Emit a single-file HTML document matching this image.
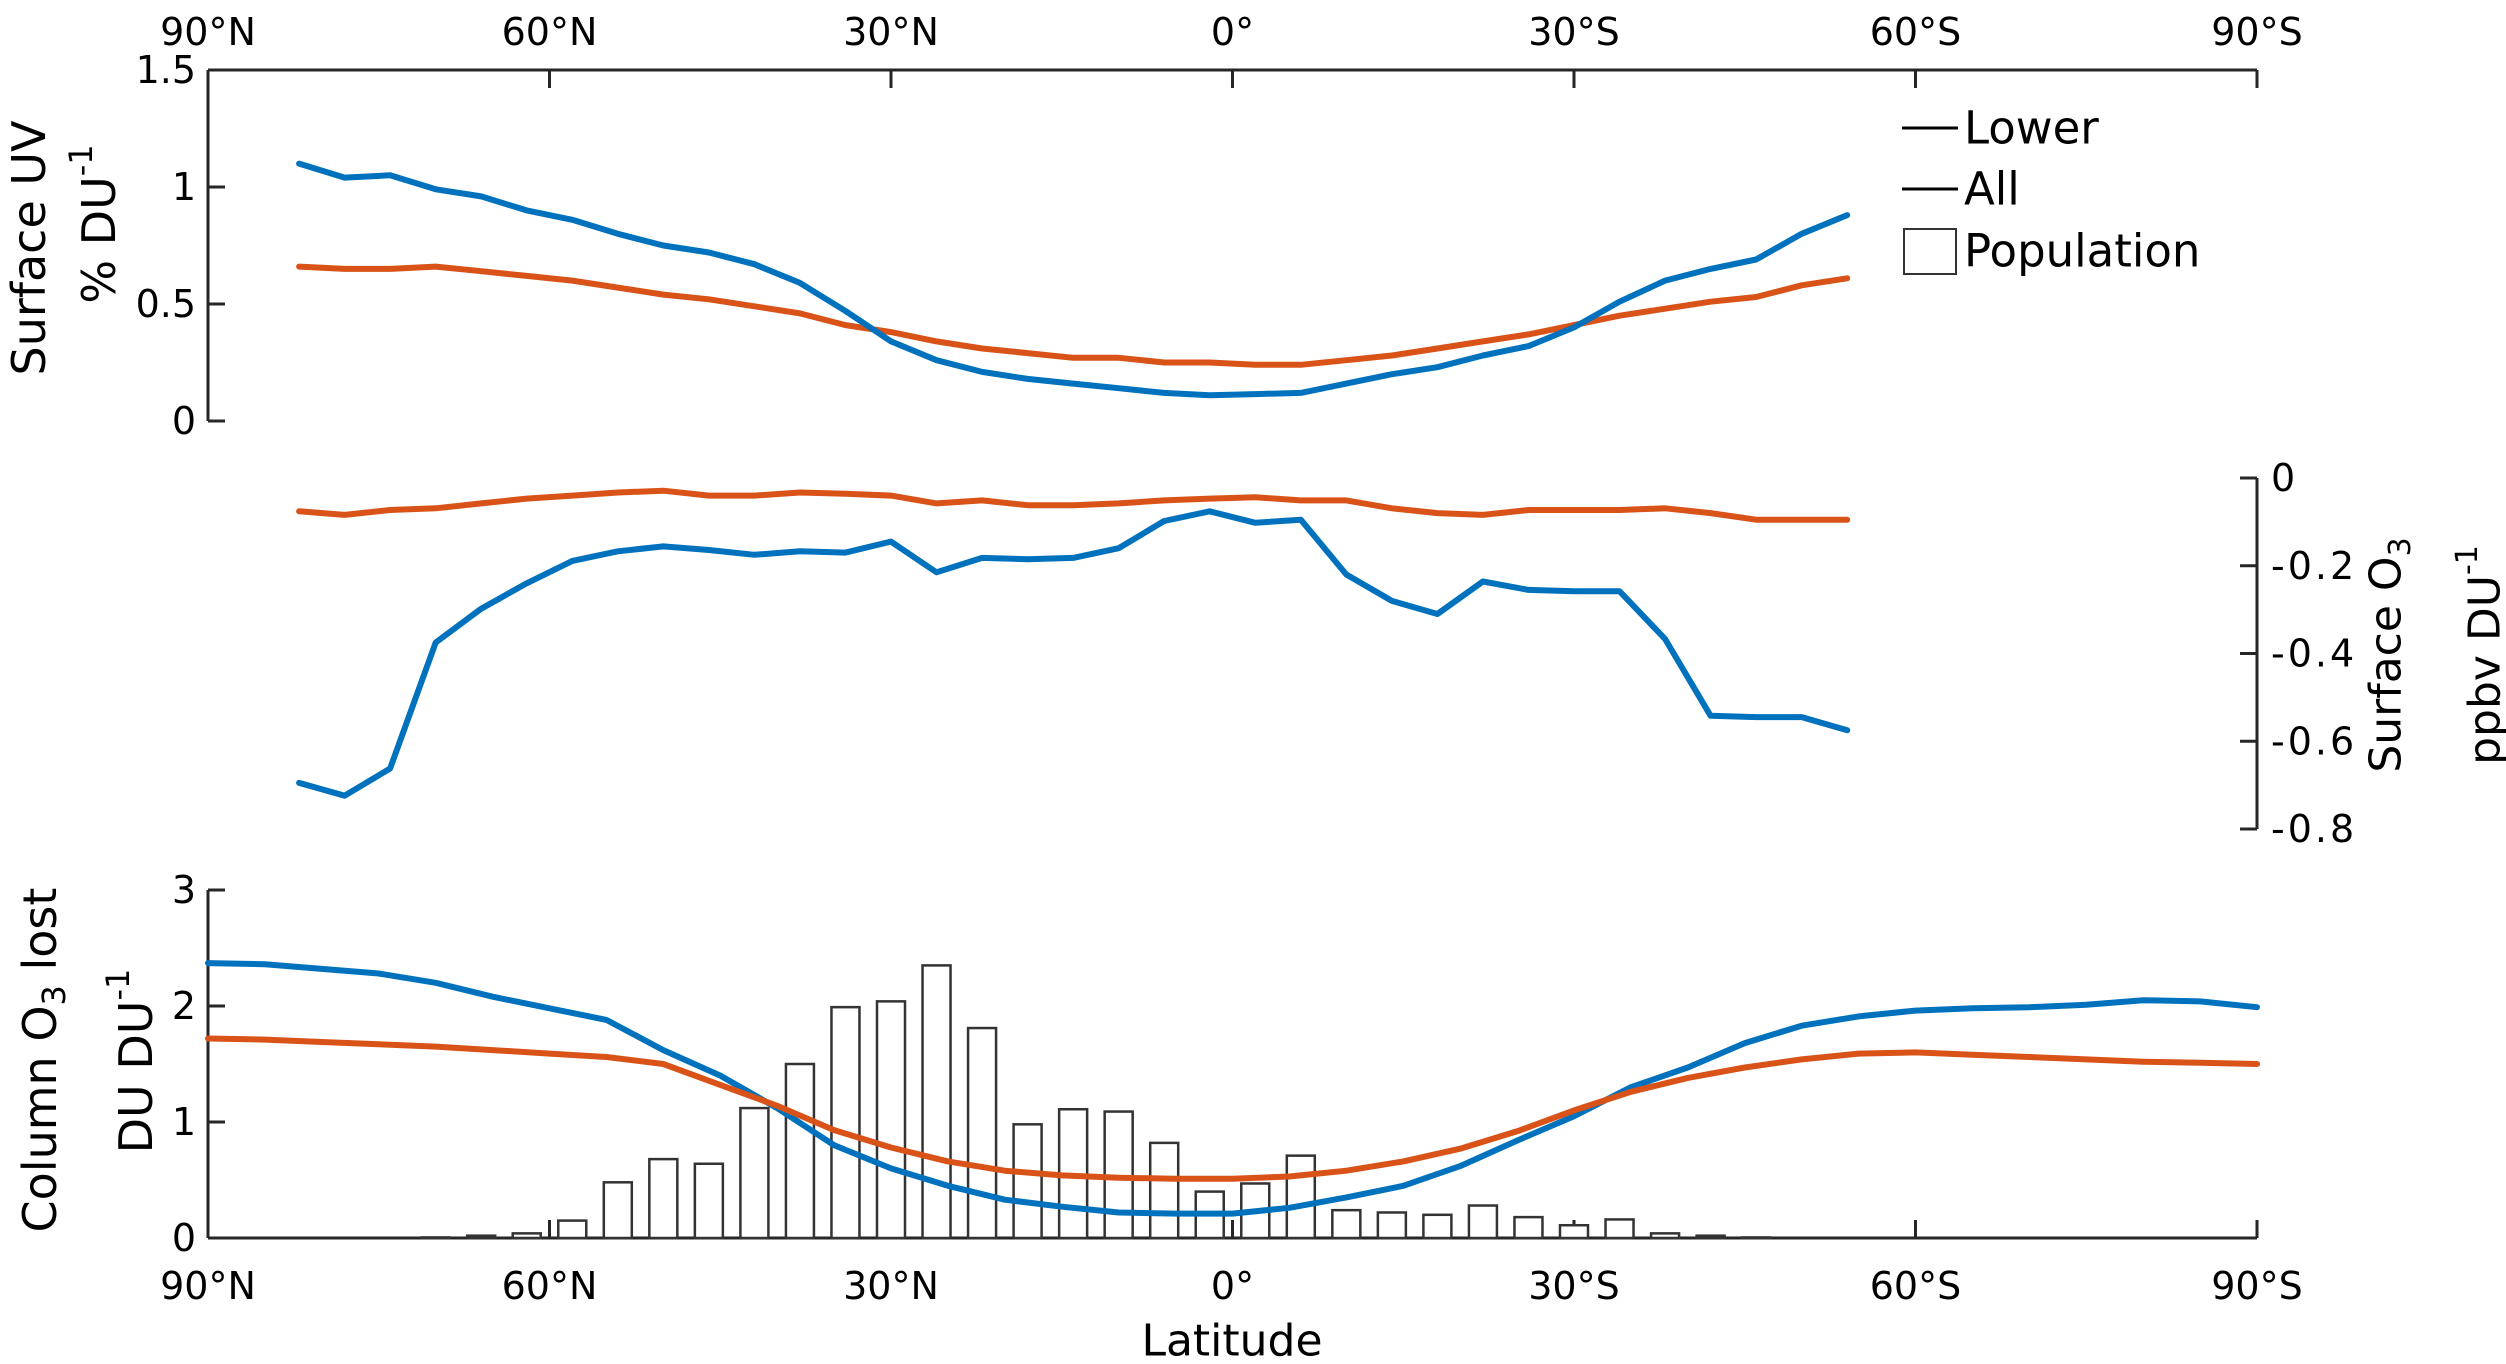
<!DOCTYPE html>
<html><head><meta charset="utf-8">
<style>
html,body{margin:0;padding:0;background:#fff;}
svg{display:block;font-family:"DejaVu Sans","Liberation Sans",sans-serif;}
</style></head>
<body>
<svg id="chart" width="2506" height="1364" viewBox="0 0 2506 1364" xmlns="http://www.w3.org/2000/svg">
<rect width="2506" height="1364" fill="#fff"/>
<g id="axes"></g>
<g id="marks"></g>
<text transform="translate(29,248) rotate(-90)" text-anchor="middle" dominant-baseline="central" font-size="46">Surface UV</text>
<text transform="translate(99,224) rotate(-90)" text-anchor="middle" dominant-baseline="central" font-size="46">% DU<tspan font-size="32" dy="-18">-1</tspan></text>
<text transform="translate(2386,655) rotate(-90)" text-anchor="middle" dominant-baseline="central" font-size="44">Surface O<tspan font-size="30" dy="14">3</tspan></text>
<text transform="translate(2485,655) rotate(-90)" text-anchor="middle" dominant-baseline="central" font-size="44">ppbv DU<tspan font-size="30" dy="-18">-1</tspan></text>
<text transform="translate(40,1060) rotate(-90)" text-anchor="middle" dominant-baseline="central" font-size="46">Column O<tspan font-size="32" dy="14">3</tspan><tspan dy="-14"> lost</tspan></text>
<text transform="translate(136,1061) rotate(-90)" text-anchor="middle" dominant-baseline="central" font-size="46">DU DU<tspan font-size="32" dy="-18">-1</tspan></text>
<text x="1232" y="1341" text-anchor="middle" dominant-baseline="central" font-size="44">Latitude</text>
<g>
<line x1="1902" y1="128" x2="1958" y2="128" stroke="#000" stroke-width="3"/>
<text x="1964" y="128" dominant-baseline="central" font-size="45">Lower</text>
<line x1="1902" y1="189" x2="1958" y2="189" stroke="#000" stroke-width="3"/>
<text x="1964" y="189" dominant-baseline="central" font-size="45">All</text>
<rect x="1904" y="229" width="52" height="45" fill="#fff" stroke="#333" stroke-width="2"/>
<text x="1964" y="251" dominant-baseline="central" font-size="45">Population</text>
</g>
</svg>
<script>
const gridLat = [82,78,74,70,66,62,58,54,50,46,42,38,34,30,26,22,18,14,10,6,2,-2,-6,-10,-14,-18,-22,-26,-30,-34,-38,-42,-46,-50,-54];
const uvLower = [1.10,1.04,1.05,0.99,0.96,0.90,0.86,0.80,0.75,0.72,0.67,0.59,0.47,0.34,0.26,0.21,0.18,0.16,0.14,0.12,0.11,0.115,0.12,0.16,0.20,0.23,0.28,0.32,0.40,0.51,0.60,0.65,0.69,0.80,0.88];
const uvAll = [0.66,0.65,0.65,0.66,0.64,0.62,0.60,0.57,0.54,0.52,0.49,0.46,0.41,0.38,0.34,0.31,0.29,0.27,0.27,0.25,0.25,0.24,0.24,0.26,0.28,0.31,0.34,0.37,0.41,0.45,0.48,0.51,0.53,0.58,0.61];
const o3Lower = [-0.695,-0.724,-0.662,-0.375,-0.298,-0.24,-0.189,-0.167,-0.156,-0.164,-0.175,-0.167,-0.17,-0.145,-0.215,-0.182,-0.185,-0.182,-0.16,-0.098,-0.076,-0.102,-0.095,-0.22,-0.28,-0.31,-0.236,-0.255,-0.258,-0.258,-0.367,-0.542,-0.545,-0.545,-0.575];
const o3All = [-0.076,-0.084,-0.073,-0.069,-0.058,-0.047,-0.04,-0.033,-0.029,-0.04,-0.04,-0.033,-0.036,-0.04,-0.058,-0.051,-0.062,-0.062,-0.058,-0.051,-0.047,-0.044,-0.051,-0.051,-0.069,-0.08,-0.084,-0.073,-0.073,-0.073,-0.069,-0.08,-0.095,-0.095,-0.095];
const population = [0,0,0,0.005,0.02,0.04,0.15,0.48,0.68,0.64,1.12,1.50,1.99,2.04,2.35,1.81,0.98,1.11,1.09,0.82,0.40,0.47,0.71,0.24,0.22,0.20,0.28,0.18,0.11,0.16,0.04,0.02,0.005,0,0];
const colLat = [90,85,80,75,70,65,60,55,50,45,40,35,30,25,20,15,10,5,0,-5,-10,-15,-20,-25,-30,-35,-40,-45,-50,-55,-60,-65,-70,-75,-80,-85,-90];
const colLower = [2.37,2.36,2.32,2.28,2.20,2.08,1.98,1.88,1.62,1.40,1.12,0.80,0.60,0.45,0.33,0.27,0.22,0.21,0.21,0.26,0.35,0.45,0.62,0.84,1.05,1.30,1.47,1.68,1.83,1.91,1.96,1.98,1.99,2.01,2.05,2.04,1.99];
const colAll = [1.72,1.71,1.69,1.67,1.65,1.62,1.59,1.56,1.50,1.32,1.14,0.93,0.78,0.66,0.58,0.54,0.52,0.51,0.51,0.53,0.58,0.66,0.77,0.92,1.10,1.26,1.38,1.47,1.54,1.59,1.60,1.58,1.56,1.54,1.52,1.51,1.50];
const latTicks = [90,60,30,0,-30,-60,-90];
const latTickLabels = ["90°N","60°N","30°N","0°","30°S","60°S","90°S"];
const uvTicks = [0,0.5,1,1.5];
const uvTickLabels = ["0","0.5","1","1.5"];
const o3Ticks = [0,-0.2,-0.4,-0.6,-0.8];
const o3TickLabels = ["0","-0.2","-0.4","-0.6","-0.8"];
const colTicks = [0,1,2,3];
const colTickLabels = ["0","1","2","3"];

const NS = "http://www.w3.org/2000/svg";
const X0 = 208, X1 = 2257;
const xLat = lat => X0 + (90 - lat) / 180 * (X1 - X0);
const yUV = v => 421 - v * 234;
const yO3 = v => 478 - v * (829 - 478) / 0.8;
const yCol = v => 1238 - v * 116;
const BLUE = "#0072BD", ORANGE = "#D95319", AX = "#262626";
const axes = document.getElementById("axes");
const marks = document.getElementById("marks");
function mk(tag, attrs, parent) {
  const el = document.createElementNS(NS, tag);
  for (const k in attrs) el.setAttribute(k, attrs[k]);
  parent.appendChild(el);
  return el;
}
function line(x1,y1,x2,y2,name){
  const l = mk("line",{x1:x1,y1:y1,x2:x2,y2:y2,stroke:AX,"stroke-width":3},axes);
  
  
}
function label(x,y,txt,anchor,name,ls){
  const t = mk("text",{x:x,y:y,"text-anchor":anchor,"dominant-baseline":"central","font-size":38},axes);
  if (ls) t.setAttribute("letter-spacing", ls);
  t.textContent = txt;
  
  
}
line(X0,70,X1,70,"top-x-axis");
line(X0,70,X0,421,"uv-y-axis");
line(X1,70,X1,88,"top-right-edge");
latTicks.forEach((lat,i)=>{
  line(xLat(lat),70,xLat(lat),88,"top-x-tick");
  label(xLat(lat),32,latTickLabels[i],"middle","top-x-tick-label");
});
uvTicks.forEach((v,i)=>{
  line(X0,yUV(v),X0+17,yUV(v),"uv-y-tick");
  label(X0-12,yUV(v),uvTickLabels[i],"end","uv-y-tick-label");
});
line(X1,yO3(0),X1,yO3(-0.8),"o3-y-axis");
o3Ticks.forEach((v,i)=>{
  line(X1-17,yO3(v),X1,yO3(v),"o3-y-tick");
  label(X1+14,yO3(v),o3TickLabels[i],"start","o3-y-tick-label","3");
});
line(X0,1238,X1,1238,"bottom-x-axis");
line(X0,yCol(3),X0,1238,"column-y-axis");
latTicks.forEach((lat,i)=>{
  line(xLat(lat),1220,xLat(lat),1238,"bottom-x-tick");
  label(xLat(lat),1286,latTickLabels[i],"middle","bottom-x-tick-label");
});
colTicks.forEach((v,i)=>{
  line(X0,yCol(v),X0+17,yCol(v),"column-y-tick");
  label(X0-12,yCol(v),colTickLabels[i],"end","column-y-tick-label");
});
const barW = 28;
population.forEach((v,i)=>{
  const yt = yCol(v);
  const r = mk("rect",{x:xLat(gridLat[i])-barW/2,y:yt,width:barW,height:Math.max(0,1238-yt),fill:"#fff",stroke:"#333","stroke-width":2.5},marks);
  
  
});
function series(lats, vals, yf, color, name){
  const d = vals.map((v,i)=>(i?"L":"M")+xLat(lats[i]).toFixed(1)+","+yf(v).toFixed(1)).join(" ");
  const p = mk("path",{d:d,fill:"none",stroke:color,"stroke-width":6,"stroke-linejoin":"round","stroke-linecap":"round"},marks);
  
  
}
series(gridLat, uvAll, yUV, ORANGE, "uv-all-line");
series(gridLat, uvLower, yUV, BLUE, "uv-lower-line");
series(gridLat, o3All, yO3, ORANGE, "o3-all-line");
series(gridLat, o3Lower, yO3, BLUE, "o3-lower-line");
series(colLat, colLower, yCol, BLUE, "column-lower-line");
series(colLat, colAll, yCol, ORANGE, "column-all-line");
</script>
</body></html>
